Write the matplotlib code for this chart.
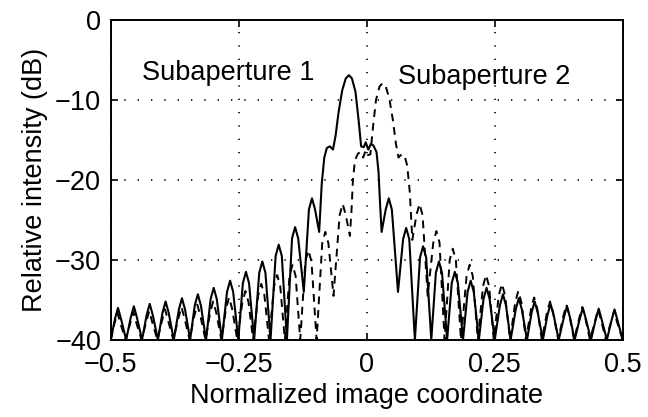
import matplotlib
matplotlib.use("Agg")
import matplotlib.pyplot as plt


# Subaperture 1 (solid): x positions and intensity in dB, read lobe by lobe
sub1_x = [
    -0.500,
    -0.492, -0.486, -0.480, -0.470,
    -0.461, -0.455, -0.449, -0.439,
    -0.430, -0.424, -0.418, -0.408,
    -0.399, -0.393, -0.387, -0.377,
    -0.367, -0.361, -0.355, -0.345,
    -0.336, -0.330, -0.324, -0.314,
    -0.305, -0.299, -0.293, -0.283,
    -0.273, -0.267, -0.261, -0.251,
    -0.242, -0.236, -0.230, -0.220,
    -0.210, -0.204, -0.198, -0.188,
    -0.178, -0.172, -0.166, -0.156,
    -0.146, -0.140, -0.134, -0.123,
    -0.113, -0.107, -0.101, -0.093,
    -0.088, -0.083, -0.078, -0.072, -0.066, -0.061, -0.055, -0.048,
    -0.041, -0.035, -0.029, -0.022, -0.016, -0.011, -0.006, -0.002,
    0.003, 0.008, 0.013, 0.019, 0.023, 0.026, 0.029,
    0.037, 0.043, 0.049, 0.061,
    0.071, 0.077, 0.083, 0.094,
    0.104, 0.110, 0.116, 0.126,
    0.135, 0.141, 0.147, 0.157,
    0.166, 0.172, 0.178, 0.188,
    0.197, 0.203, 0.209, 0.219,
    0.228, 0.234, 0.240, 0.250,
    0.260, 0.266, 0.272, 0.281,
    0.291, 0.297, 0.303, 0.313,
    0.322, 0.328, 0.334, 0.344,
    0.353, 0.359, 0.365, 0.375,
    0.385, 0.391, 0.397, 0.406,
    0.416, 0.422, 0.428, 0.438,
    0.447, 0.453, 0.459, 0.469,
    0.478, 0.484, 0.490, 0.500,
]
sub1_db = [
    -40.0,
    -37.4, -36.0, -37.4, -40.0,
    -37.2, -35.8, -37.2, -40.0,
    -36.9, -35.5, -36.9, -40.0,
    -36.6, -35.2, -36.6, -40.0,
    -36.2, -34.8, -36.2, -40.0,
    -35.7, -34.3, -35.7, -40.0,
    -34.9, -33.5, -34.9, -40.0,
    -34.0, -32.6, -34.0, -40.0,
    -32.9, -31.5, -32.9, -40.0,
    -31.6, -30.2, -31.6, -40.0,
    -29.5, -28.1, -29.5, -40.0,
    -27.3, -25.9, -27.3, -34.0,
    -23.7, -22.3, -23.7, -26.5,
    -20.5, -17.2, -16.0, -15.8, -16.2, -14.5, -11.5, -8.8,
    -7.3, -6.9, -7.3, -9.0, -12.5, -15.8, -15.9, -15.3,
    -16.2, -15.5, -15.7, -16.5, -19.0, -23.0, -26.5,
    -23.7, -22.3, -23.7, -34.0,
    -27.4, -26.0, -27.4, -40.0,
    -29.7, -28.3, -29.7, -40.0,
    -31.6, -30.2, -31.6, -40.0,
    -32.9, -31.5, -32.9, -40.0,
    -34.0, -32.6, -34.0, -40.0,
    -34.9, -33.5, -34.9, -40.0,
    -35.7, -34.3, -35.7, -40.0,
    -36.2, -34.8, -36.2, -40.0,
    -36.6, -35.2, -36.6, -40.0,
    -36.9, -35.5, -36.9, -40.0,
    -37.2, -35.8, -37.2, -40.0,
    -37.4, -36.0, -37.4, -40.0,
    -37.5, -36.1, -37.5, -40.0,
    -37.6, -36.2, -37.6, -40.0,
]

# Subaperture 2 (dashed)
sub2_x = [
    -0.500,
    -0.493, -0.487, -0.481, -0.471,
    -0.462, -0.456, -0.450, -0.440,
    -0.431, -0.425, -0.419, -0.409,
    -0.400, -0.394, -0.388, -0.378,
    -0.368, -0.362, -0.356, -0.346,
    -0.337, -0.331, -0.325, -0.315,
    -0.306, -0.300, -0.294, -0.284,
    -0.275, -0.269, -0.263, -0.253,
    -0.243, -0.237, -0.231, -0.222,
    -0.212, -0.206, -0.200, -0.191,
    -0.181, -0.175, -0.169, -0.160,
    -0.151, -0.145, -0.139, -0.130,
    -0.120, -0.114, -0.108, -0.098,
    -0.087, -0.081, -0.075, -0.065,
    -0.053, -0.047, -0.041, -0.033,
    -0.030, -0.027, -0.023, -0.017, -0.012, -0.007, -0.002, 0.002,
    0.007, 0.012, 0.018, 0.025, 0.031, 0.037, 0.044, 0.051,
    0.057, 0.062, 0.068, 0.074, 0.079, 0.084, 0.089,
    0.097, 0.103, 0.109, 0.119,
    0.130, 0.136, 0.142, 0.152,
    0.162, 0.168, 0.174, 0.184,
    0.195, 0.201, 0.207, 0.217,
    0.227, 0.233, 0.239, 0.248,
    0.258, 0.264, 0.270, 0.280,
    0.290, 0.296, 0.302, 0.311,
    0.321, 0.327, 0.333, 0.342,
    0.352, 0.358, 0.364, 0.374,
    0.384, 0.390, 0.396, 0.405,
    0.415, 0.421, 0.427, 0.436,
    0.446, 0.452, 0.458, 0.467,
    0.477, 0.483, 0.489, 0.500,
]
sub2_db = [
    -40.0,
    -38.0, -36.6, -38.0, -40.0,
    -37.9, -36.5, -37.9, -40.0,
    -37.8, -36.4, -37.8, -40.0,
    -37.6, -36.2, -37.6, -40.0,
    -37.3, -35.9, -37.3, -40.0,
    -37.0, -35.6, -37.0, -40.0,
    -36.6, -35.2, -36.6, -40.0,
    -36.1, -34.7, -36.1, -40.0,
    -35.3, -33.9, -35.3, -40.0,
    -34.4, -33.0, -34.4, -40.0,
    -33.3, -31.9, -33.3, -40.0,
    -32.0, -30.6, -32.0, -40.0,
    -30.2, -28.8, -30.2, -40.0,
    -27.9, -26.5, -27.9, -34.5,
    -24.4, -23.0, -24.4, -27.0,
    -24.0, -20.0, -17.5, -16.7, -16.5, -17.2, -16.3, -16.9,
    -16.8, -13.5, -10.0, -8.3, -7.9, -8.3, -9.8, -12.5,
    -15.5, -17.2, -16.8, -17.0, -18.2, -21.5, -27.5,
    -24.4, -23.0, -24.4, -34.5,
    -27.8, -26.4, -27.8, -40.0,
    -30.0, -28.6, -30.0, -40.0,
    -32.0, -30.6, -32.0, -40.0,
    -33.3, -31.9, -33.3, -40.0,
    -34.4, -33.0, -34.4, -40.0,
    -35.3, -33.9, -35.3, -40.0,
    -36.1, -34.7, -36.1, -40.0,
    -36.6, -35.2, -36.6, -40.0,
    -37.0, -35.6, -37.0, -40.0,
    -37.3, -35.9, -37.3, -40.0,
    -37.6, -36.2, -37.6, -40.0,
    -37.8, -36.4, -37.8, -40.0,
]

x_ticks = [-0.5, -0.25, 0, 0.25, 0.5]
x_tick_labels = ["\u22120.5", "\u22120.25", "0", "0.25", "0.5"]
y_ticks = [-40, -30, -20, -10, 0]
curve_labels = ["Subaperture 1", "Subaperture 2"]

plt.rcParams["font.family"] = ["Liberation Sans", "DejaVu Sans"]
plt.rcParams["font.size"] = 19.5

fig = plt.figure(figsize=(6.48, 4.17), dpi=100)
ax = fig.add_axes([0.171, 0.185, 0.790, 0.767])

ax.plot(sub1_x, sub1_db, color="black", lw=1.5, solid_joinstyle="round")
ax.plot(sub2_x, sub2_db, color="black", lw=1.4, dashes=(4.0, 3.0))

ax.set_xlim(-0.5, 0.5)
ax.set_ylim(-40, 0)
ax.set_xticks(x_ticks)
ax.set_xticklabels(x_tick_labels)
ax.set_yticks(y_ticks)

ax.grid(True, color="black", lw=1.2, dashes=(0.8, 7.2))
ax.tick_params(direction="in", length=5, width=1.2, top=True, right=True)
ax.tick_params(axis="x", pad=9)
ax.tick_params(axis="y", pad=7)
for s in ax.spines.values():
    s.set_linewidth(1.4)

ax.text(-0.439, -6.6, curve_labels[0], ha="left", va="center")
ax.text(0.061, -7.1, curve_labels[1], ha="left", va="center")

ax.set_xlabel("Normalized image coordinate", labelpad=3)
ax.set_ylabel("Relative intensity (dB)", labelpad=5)

fig.savefig("out.png", dpi=100)
